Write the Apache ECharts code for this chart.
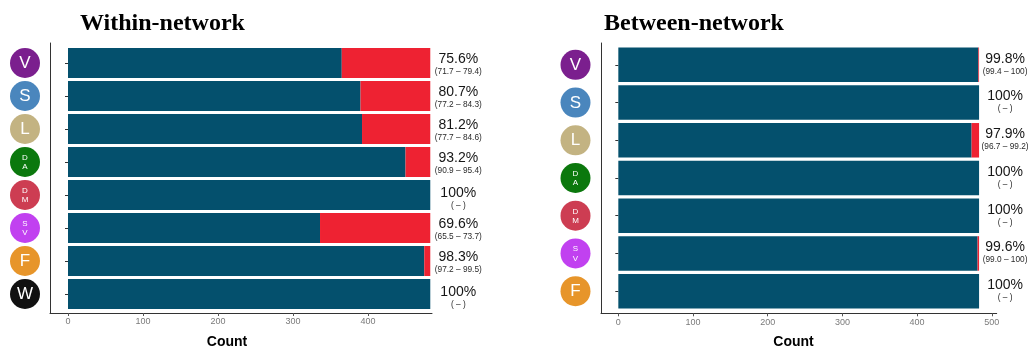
<!DOCTYPE html>
<html>
<head>
<meta charset="utf-8">
<script src="https://cdn.jsdelivr.net/npm/echarts@6/dist/echarts.min.js"></script>
<style>
  html, body { margin: 0; padding: 0; background: #fff; }
  #chart { width: 1029px; height: 350px; }
</style>
</head>
<body>
<div id="chart"></div>
<script>
// Networks, top to bottom
const withinNetworks = ['V', 'S', 'L', 'DA', 'DM', 'SV', 'F', 'W'];
const betweenNetworks = ['V', 'S', 'L', 'DA', 'DM', 'SV', 'F'];

// Counts per network: correctly assigned vs. misassigned
const withinCorrect = [365, 390, 392, 450, 483, 336, 475, 483];
const withinMissed  = [118,  93,  91,  33,   0, 147,   8,   0];
const betweenCorrect = [482, 483, 473, 483, 483, 481, 483];
const betweenMissed  = [  1,   0,  10,   0,   0,   2,   0];

// Accuracy and 95% interval text
const withinPct = ['75.6%', '80.7%', '81.2%', '93.2%', '100%', '69.6%', '98.3%', '100%'];
const withinCI  = ['(71.7 – 79.4)', '(77.2 – 84.3)', '(77.7 – 84.6)', '(90.9 – 95.4)', '( – )', '(65.5 – 73.7)', '(97.2 – 99.5)', '( – )'];
const betweenPct = ['99.8%', '100%', '97.9%', '100%', '100%', '99.6%', '100%'];
const betweenCI  = ['(99.4 – 100)', '( – )', '(96.7 – 99.2)', '( – )', '( – )', '(99.0 – 100)', '( – )'];

// Count axis ticks
const withinTicks = [0, 100, 200, 300, 400];
const betweenTicks = [0, 100, 200, 300, 400, 500];

// ---- styling ----
const SANS = '"Liberation Sans", Arial, Helvetica, sans-serif';
const SERIF = '"Liberation Serif", "Times New Roman", serif';
const BLUE = '#04506d';
const RED = '#ee2232';
const AXIS = '#333333';
const iconColors = {
  V: '#7b1f8e', S: '#4a86bd', L: '#c3b382', DA: '#0b780d',
  DM: '#cd3d52', SV: '#c141f0', F: '#e7952a', W: '#111111'
};

const chart = echarts.init(document.getElementById('chart'), null, { renderer: 'canvas' });

// panel geometry
const L = { left: 50, width: 382, min: -24, max: 485.3 };
const R = { left: 601, width: 395.7, min: -23.2, max: 506.6 };

function countAxis(gridIndex, p, ticks, offset) {
  return {
    type: 'value', gridIndex, min: p.min, max: p.max, offset,
    axisLine: { show: false },
    splitLine: { show: false },
    axisTick: { show: true, customValues: ticks, length: 3, lineStyle: { color: '#555' } },
    axisLabel: { customValues: ticks, color: '#7a7a7a', fontSize: 9, fontFamily: SANS, margin: 4.5 }
  };
}
function frameAxis(gridIndex) {
  return {
    type: 'value', gridIndex, min: 0, max: 1,
    axisLine: { show: true, lineStyle: { color: AXIS, width: 1 } },
    axisTick: { show: false }, axisLabel: { show: false }, splitLine: { show: false }
  };
}
function catAxis(gridIndex, cats) {
  return {
    type: 'category', gridIndex, data: cats, inverse: true,
    axisLine: { show: false },
    axisTick: { show: true, alignWithLabel: true, length: 3, lineStyle: { color: AXIS } },
    axisLabel: { show: false }, splitLine: { show: false }
  };
}
function labelRich() {
  return {
    p: { fontSize: 14, lineHeight: 13, color: '#161616', fontFamily: SANS },
    c: { fontSize: 8.3, lineHeight: 12, color: '#2a2a2a', fontFamily: SANS }
  };
}
function barPair(idx, correct, missed, pct, ci, width, dist, offsets) {
  return [
    {
      type: 'bar', name: 'Correct', xAxisIndex: idx, yAxisIndex: idx, stack: 's' + idx,
      barWidth: width, itemStyle: { color: BLUE }, data: correct, animation: false
    },
    {
      type: 'bar', name: 'Missed', xAxisIndex: idx, yAxisIndex: idx, stack: 's' + idx,
      barWidth: width, itemStyle: { color: RED }, animation: false,
      data: missed.map((v, i) => ({
        value: v,
        label: { offset: [0, ci[i] === '( – )' ? offsets[1] : offsets[0]] }
      })),
      label: {
        show: true, position: 'right', distance: dist, align: 'center', verticalAlign: 'middle',
        formatter: (p) => `{p|${pct[p.dataIndex]}}\n{c|${ci[p.dataIndex]}}`,
        rich: labelRich()
      }
    }
  ];
}

chart.setOption({
  backgroundColor: '#fff',
  animation: false,
  title: [
    { text: 'Within-network', left: 75, top: 7, textStyle: { fontFamily: SERIF, fontWeight: 'bold', fontSize: 24, lineHeight: 24, color: '#000' } },
    { text: 'Between-network', left: 599, top: 7, textStyle: { fontFamily: SERIF, fontWeight: 'bold', fontSize: 24, lineHeight: 24, color: '#000' } },
    { text: 'Count', left: 201.8, top: 330, textStyle: { fontFamily: SANS, fontWeight: 'bold', fontSize: 14, lineHeight: 14, color: '#000' } },
    { text: 'Count', left: 768.3, top: 330, textStyle: { fontFamily: SANS, fontWeight: 'bold', fontSize: 14, lineHeight: 14, color: '#000' } }
  ],
  grid: [
    { left: L.left, top: 46.5, width: L.width, height: 264 },
    { left: R.left, top: 46, width: R.width, height: 264 },
    { left: L.left, top: 43, width: L.width, height: 270 },
    { left: R.left, top: 43, width: R.width, height: 270.3 }
  ],
  xAxis: [
    countAxis(0, L, withinTicks, 2.5),
    countAxis(1, R, betweenTicks, 3.3),
    frameAxis(2), frameAxis(3)
  ],
  yAxis: [
    catAxis(0, withinNetworks),
    catAxis(1, betweenNetworks),
    frameAxis(2), frameAxis(3)
  ],
  series: [
    ...barPair(0, withinCorrect, withinMissed, withinPct, withinCI, 30, 28, [2, 4.5]),
    ...barPair(1, betweenCorrect, betweenMissed, betweenPct, betweenCI, 34.5, 26, [0, 0])
  ]
});

// network badges beside each category tick
function badges(cats, yAxisIndex, cx) {
  return cats.map((c) => {
    const cy = chart.convertToPixel({ yAxisIndex }, c);
    const two = c.length > 1;
    return {
      type: 'group', x: cx, y: cy, silent: true,
      children: [
        { type: 'circle', shape: { cx: 0, cy: 0, r: 15 }, style: { fill: iconColors[c] } },
        {
          type: 'text',
          style: {
            text: two ? c.split('').join('\n') : c,
            x: 0, y: 0.5, align: 'center', verticalAlign: 'middle',
            fill: '#fff', fontFamily: SANS,
            fontSize: two ? 8 : 17, lineHeight: two ? 9.5 : 17
          }
        }
      ]
    };
  });
}
chart.setOption({
  graphic: [
    ...badges(withinNetworks, 0, L.left - 25),
    ...badges(betweenNetworks, 1, R.left - 25.5)
  ]
});
</script>
</body>
</html>
